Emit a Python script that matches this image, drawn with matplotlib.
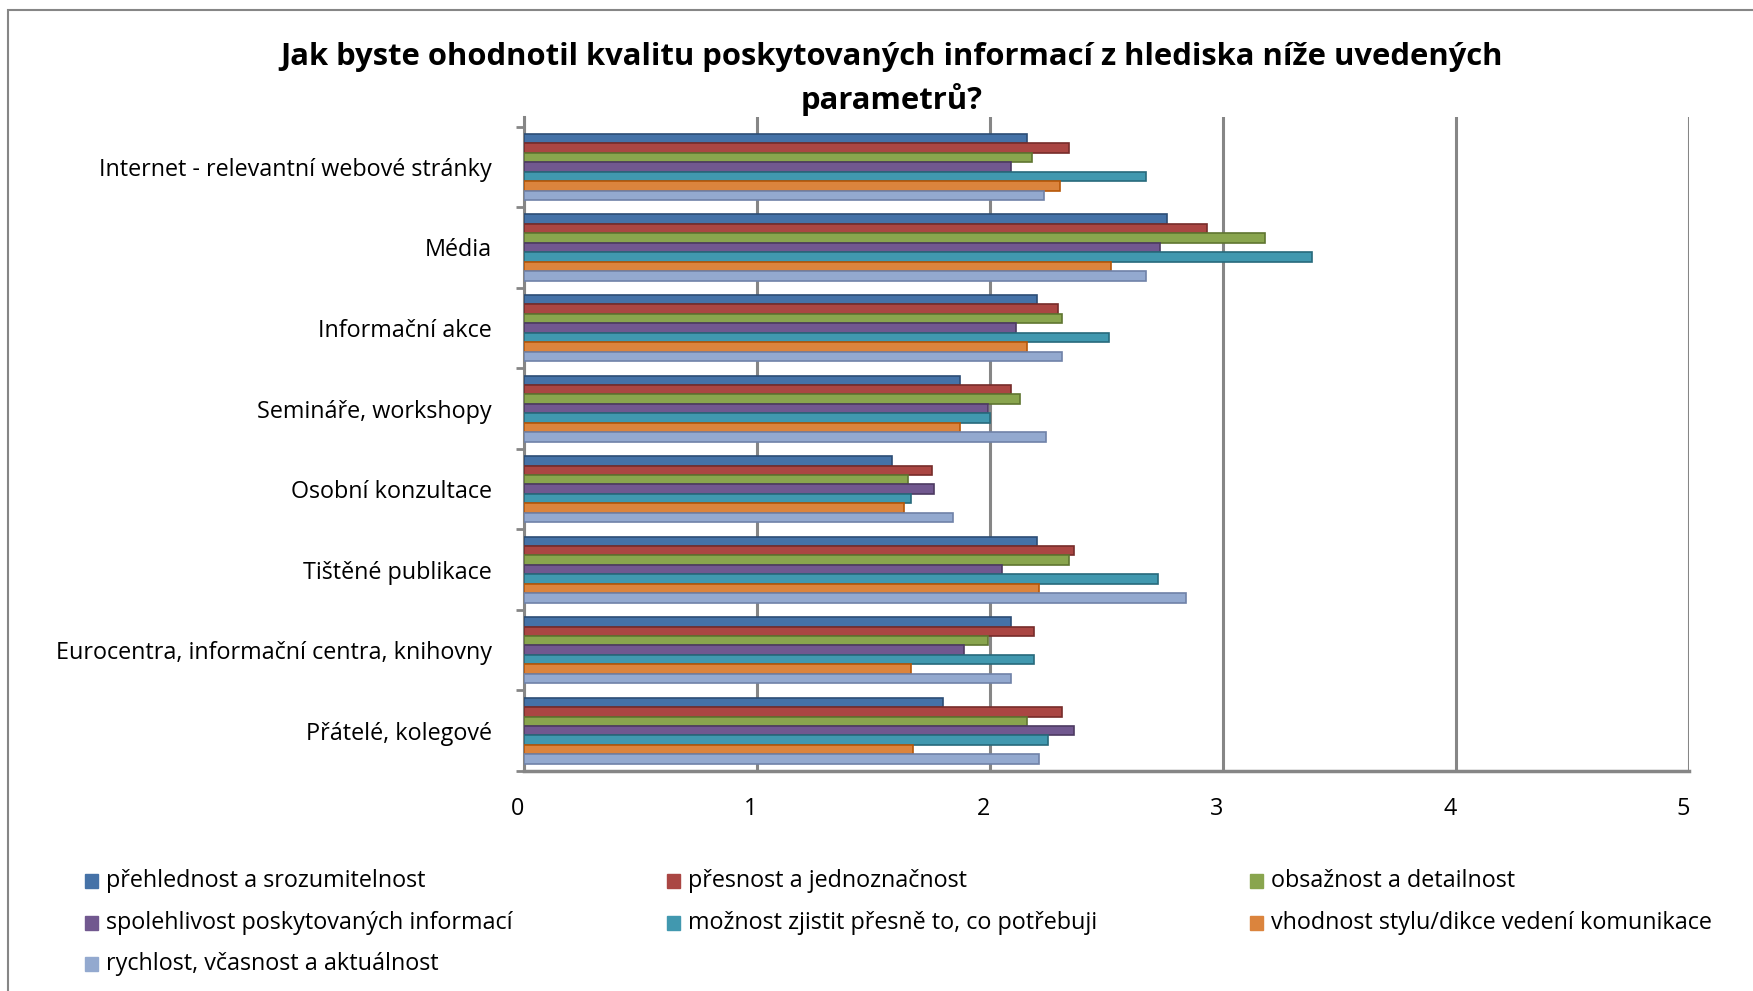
import numpy as np
import matplotlib.pyplot as plt
import matplotlib.transforms as mtransforms
from matplotlib.patches import Rectangle

plt.rcParams['font.family'] = ['Open Sans', 'DejaVu Sans']

categories = ['Internet - relevantní webové stránky', 'Média', 'Informační akce',
              'Semináře, workshopy', 'Osobní konzultace', 'Tištěné publikace',
              'Eurocentra, informační centra, knihovny', 'Přátelé, kolegové']

series_names = ['přehlednost a srozumitelnost', 'přesnost a jednoznačnost',
                'obsažnost a detailnost', 'spolehlivost poskytovaných informací',
                'možnost zjistit přesně to, co potřebuji',
                'vhodnost stylu/dikce vedení komunikace',
                'rychlost, včasnost a aktuálnost']

prehlednost  = [2.16, 2.76, 2.20, 1.87, 1.58, 2.20, 2.09, 1.80]
presnost     = [2.34, 2.93, 2.29, 2.09, 1.75, 2.36, 2.19, 2.31]
obsaznost    = [2.18, 3.18, 2.31, 2.13, 1.65, 2.34, 1.99, 2.16]
spolehlivost = [2.09, 2.73, 2.11, 1.99, 1.76, 2.05, 1.89, 2.36]
moznost      = [2.67, 3.38, 2.51, 2.00, 1.66, 2.72, 2.19, 2.25]
vhodnost     = [2.30, 2.52, 2.16, 1.87, 1.63, 2.21, 1.66, 1.67]
rychlost     = [2.23, 2.67, 2.31, 2.24, 1.84, 2.84, 2.09, 2.21]

series = [prehlednost, presnost, obsaznost, spolehlivost, moznost, vhodnost, rychlost]
colors = ['#4572A7', '#AA4643', '#89A54E', '#71588F', '#4198AF', '#DB843D', '#93A9CF']
edges = ['#2C4D75', '#772C2A', '#5F7530', '#4D3B62', '#276A7C', '#B65708', '#6F82A8']

fig = plt.figure(figsize=(17.53, 9.91), dpi=100)
ax = fig.add_axes([524 / 1753, 1 - 771 / 991, (1689 - 524) / 1753, (771 - 117) / 991])

n = len(series)
h = 0.82 / n
y = np.arange(len(categories))
for i, (vals, c, e) in enumerate(zip(series, colors, edges)):
    pos = y - 0.41 + h * (i + 0.5)
    ax.barh(pos, vals, height=h, color=c, edgecolor=e, linewidth=1.2,
            label=series_names[i], zorder=3)

ax.set_xlim(0, 5)
ax.set_ylim(7.5, -0.62)
ax.set_xticks(range(6))
ax.xaxis.grid(True, color='#868686', linewidth=2.2, zorder=0)
ax.set_yticks(y)
ax.set_yticklabels(categories, fontsize=16.8)
ax.set_yticks(np.arange(-0.5, 8, 1), minor=True)
ax.tick_params(axis='y', which='major', length=0, pad=23)
ax.tick_params(axis='y', which='minor', length=6, width=2, color='#868686')
ax.tick_params(axis='x', length=0, pad=18.5, labelsize=16.8)
# front edge of the 3D floor sits a little left of the back wall
shift = mtransforms.ScaledTranslation(-6 / 100, 0, fig.dpi_scale_trans)
for lbl in ax.get_xticklabels():
    lbl.set_transform(lbl.get_transform() + shift)
for s in ['top', 'right']:
    ax.spines[s].set_visible(False)
ax.spines['left'].set_color('#868686')
ax.spines['left'].set_linewidth(2.2)
ax.spines['bottom'].set_color('#868686')
ax.spines['bottom'].set_linewidth(2.5)

fig.text(892 / 1753, 1 - 57 / 991,
         'Jak byste ohodnotil kvalitu poskytovaných informací z hlediska níže uvedených',
         ha='center', va='center', fontsize=22.3, fontweight='bold')
fig.text(892 / 1753, 1 - 100 / 991, 'parametrů?', ha='center', va='center',
         fontsize=22.3, fontweight='bold')

# legend as three columns, filled row by row
handles, labels = ax.get_legend_handles_labels()
col_x = [85, 667, 1250]
row_y = [881, 923, 964]
for k, (hd, lb) in enumerate(zip(handles, labels)):
    cx = col_x[k % 3]
    cy = row_y[k // 3]
    fig.patches.append(Rectangle((cx / 1753, 1 - (cy + 7) / 991), 13 / 1753, 14 / 991,
                                 transform=fig.transFigure, color=colors[k]))
    fig.text((cx + 21) / 1753, 1 - cy / 991, lb, ha='left', va='center', fontsize=16.8)

fig.patches.append(Rectangle((8 / 1753, -0.1), 1.2, 1 - 10 / 991 + 0.1,
                             transform=fig.transFigure, fill=False,
                             edgecolor='#868686', linewidth=1.5))

fig.savefig('out.png', dpi=100)
